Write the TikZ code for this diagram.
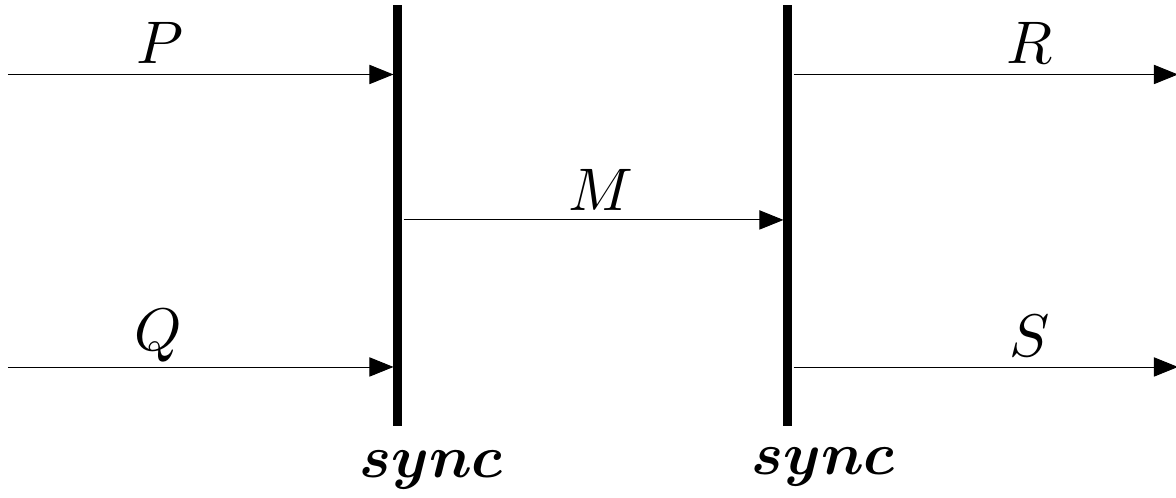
\documentclass[tikz,border=0pt]{standalone}
\usepackage{amsmath}
\usetikzlibrary{arrows.meta,positioning}

\begin{document}
\begin{tikzpicture}
    [x=1.14cm,y=1.14cm,
    bar/.style={fill=black,inner sep=0pt,minimum width=1.5pt,minimum height=2.46cm},
    msg/.style={line width=0.15pt,-{Triangle[length=4pt,width=3.2pt]}}]
    \useasboundingbox (-0.041,-0.667) rectangle (5.990,1.882);
    %sync bars
    \node[bar] (s1) at (2,0.775) {};
    \node[bar] (s2) at (4,0.775) {};
    \node (l1) at (2.17,-0.53) {$\boldsymbol{sync}$};
    \node (l2) at (4.18,-0.515) {$\boldsymbol{sync}$};
    %end points
    \coordinate (p) at (0,1.5);
    \coordinate (q) at (0,0);
    \coordinate (r) at (6,1.5);
    \coordinate (s) at (6,0);
    %messages
    \draw[msg] (p) -- ([xshift=0.2pt]p -| s1.west);
    \draw[msg] (q) -- ([xshift=0.2pt]q -| s1.west);
    \draw[msg] (s1.east |- 0,0.754) -- ([xshift=0.2pt]s2.west |- 0,0.754);
    \draw[msg] (r -| s2.east) -- (r);
    \draw[msg] (s -| s2.east) -- (s);
    %labels
    \node (lp) at (0.78,1.66) {$P$};
    \node (lq) at (0.77,0.16) {$Q$};
    \node (lm) at (3.04,0.91) {$M$};
    \node (lr) at (5.24,1.66) {$R$};
    \node (ls) at (5.24,0.16) {$S$};
\end{tikzpicture}
\end{document}
